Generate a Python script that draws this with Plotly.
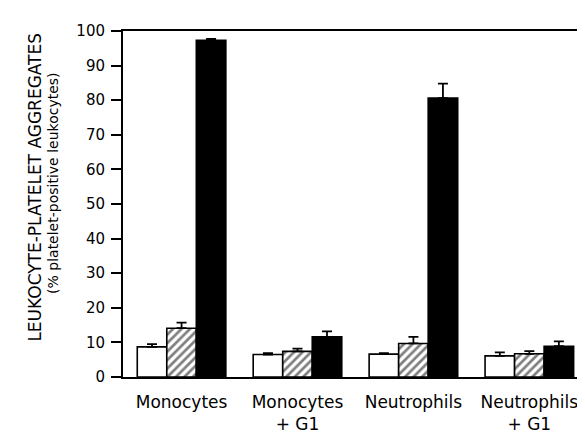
import plotly.graph_objects as go

categories = ["Monocytes", "Monocytes<br>+ G1", "Neutrophils", "Neutrophils<br>+ G1"]
open_vals = [8.7, 6.5, 6.6, 6.1]
open_err = [0.8, 0.4, 0.3, 1.0]
hatch_vals = [14.1, 7.4, 9.7, 6.7]
hatch_err = [1.6, 0.8, 1.9, 0.8]
solid_vals = [97.3, 11.6, 80.6, 8.9]
solid_err = [0.4, 1.6, 4.2, 1.4]

font = "DejaVu Sans, Arial, Helvetica, sans-serif"

def err(a):
    return dict(type="data", symmetric=False, array=a, arrayminus=[0]*len(a),
                color="black", thickness=1.8, width=5)

fig = go.Figure()
fig.add_bar(x=categories, y=open_vals, error_y=err(open_err),
            marker=dict(color="white", line=dict(color="black", width=1.6)))
fig.add_bar(x=categories, y=hatch_vals, error_y=err(hatch_err),
            marker=dict(color="white", line=dict(color="black", width=1.6),
                        pattern=dict(shape="/", fgcolor="black", bgcolor="white",
                                     size=6, solidity=0.45)))
fig.add_bar(x=categories, y=solid_vals, error_y=err(solid_err),
            marker=dict(color="black", line=dict(color="black", width=1.6)))

# page has an 8px body margin, so the figure is 8px smaller and margins offset
fig.update_layout(
    width=577, height=426,
    margin=dict(l=115, r=0, t=23, b=57, autoexpand=False),
    paper_bgcolor="white", plot_bgcolor="white",
    barmode="group", bargap=0.236, bargroupgap=0,
    showlegend=False,
    font=dict(family=font, color="black"),
    xaxis=dict(range=[-0.505, 3.48], showline=True, mirror=True, linecolor="black",
               linewidth=1.8, ticks="", showgrid=False, zeroline=False,
               automargin=False, tickfont=dict(size=17), ticklabelstandoff=9),
    yaxis=dict(range=[0, 100], tickvals=list(range(0, 101, 10)), showline=True,
               linecolor="black", linewidth=2, ticks="outside", ticklen=10,
               tickwidth=2, tickcolor="black", showgrid=False, zeroline=False,
               automargin=False, tickfont=dict(size=15), ticklabelstandoff=3),
    annotations=[
        dict(text="LEUKOCYTE-PLATELET AGGREGATES", textangle=-90, xref="paper",
             yref="paper", x=-0.190, y=0.548, xanchor="center", yanchor="middle",
             showarrow=False, font=dict(size=17)),
        dict(text="(% platelet-positive leukocytes)", textangle=-90, xref="paper",
             yref="paper", x=-0.1515, y=0.558, xanchor="center", yanchor="middle",
             showarrow=False, font=dict(size=14)),
    ],
)

fig.write_html("out.html")
